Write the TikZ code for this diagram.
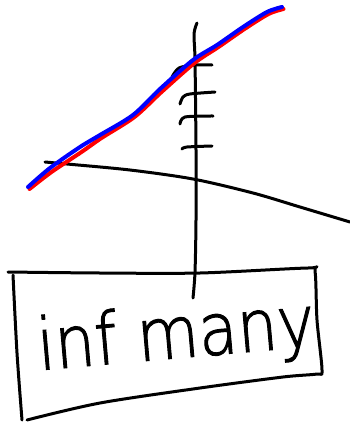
\documentclass[tikz,border=0pt]{standalone}
\usepackage{fontspec}
\newfontfamily\handfont[FakeBold=1.5]{DejaVu Sans ExtraLight}
\begin{document}
\begin{tikzpicture}[x=1pt,y=-1pt,
  ink/.style={line width=3pt,line cap=round,line join=round,black},
  bluepen/.style={line width=4pt,line cap=round,line join=round,blue},
  redpen/.style={line width=4pt,line cap=round,line join=round,red}]
\useasboundingbox (0,0) rectangle (350,423);
\fill[white] (0,0) rectangle (350,423);
% vertical axis
\draw[ink] plot[smooth] coordinates {(197,23) (194,34) (195,60) (196,150) (196,220) (195,272) (193,298)};
% ticks
\draw[ink] plot[smooth] coordinates {(172,77) (179,68) (195,65) (212,65)};
\draw[ink] plot[smooth] coordinates {(180,104) (183,97) (190,94) (215,92)};
\draw[ink] plot[smooth] coordinates {(180,124) (185,117) (213,116)};
\draw[ink] plot[smooth] coordinates {(182,149) (187,147) (212,146)};
% horizontal curve
\draw[ink] plot[smooth] coordinates {(45,162) (67,164) (130,170) (193,179) (253,193) (300,207) (350,222)};
% red and blue curves
\draw[redpen,shift={(1.5,2)}] plot[smooth] coordinates {(28,187) (50,170) (80,150) (100,136) (133,115) (160,90) (193,61) (217,45) (243,27) (267,12) (282,7)};
\draw[bluepen] plot[smooth] coordinates {(28,187) (50,168) (80,147) (100,135) (133,115) (160,89) (193,60) (217,45) (243,27) (267,12) (282,7)};
% box
\draw[ink] plot[smooth] coordinates {(8,272) (100,273) (200,273) (308,268) (315,271) (317,320) (322,370) (317,374) (283,377) (200,388) (100,403) (27,420)};
\draw[ink] plot[smooth] coordinates {(13,275) (17,353) (22,420)};
\node[rotate=5,inner sep=0pt,anchor=base] (label) at (178,358)
  {\handfont\fontsize{72}{72}\selectfont\scalebox{0.88}[1]{inf many}};
\end{tikzpicture}
\end{document}
